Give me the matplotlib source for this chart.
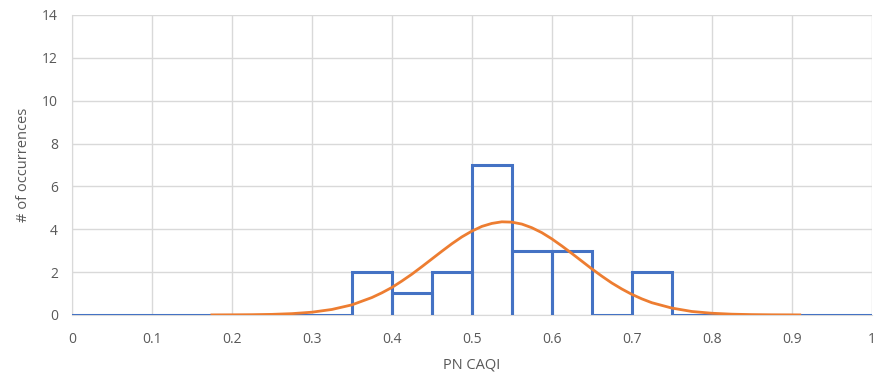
import matplotlib.pyplot as plt

# histogram of PN CAQI, bins of 0.05
bin_edges = [round(0.05 * i, 2) for i in range(21)]
counts = [0, 0, 0, 0, 0, 0, 0, 2, 1, 2, 7, 3, 3, 0, 2, 0, 0, 0, 0, 0]

# fitted normal curve
curve_x = [0.175, 0.2, 0.225, 0.25, 0.275, 0.3, 0.325, 0.35, 0.375, 0.3875, 0.4,
           0.4125, 0.425, 0.4375, 0.45, 0.4625, 0.475, 0.4875, 0.5, 0.5125, 0.525,
           0.5375, 0.55, 0.5625, 0.575, 0.5875, 0.6, 0.6125, 0.625, 0.6375, 0.65,
           0.6625, 0.675, 0.6875, 0.7, 0.7125, 0.725, 0.75, 0.775, 0.8, 0.825,
           0.85, 0.875, 0.9, 0.91]
curve_y = [0.0, 0.004, 0.01, 0.025, 0.059, 0.126, 0.254, 0.468, 0.81, 1.03, 1.28,
           1.58, 1.90, 2.25, 2.61, 2.97, 3.32, 3.64, 3.91, 4.13, 4.27,
           4.345, 4.33, 4.24, 4.07, 3.84, 3.55, 3.22, 2.87, 2.51, 2.15,
           1.81, 1.49, 1.21, 0.96, 0.75, 0.57, 0.32, 0.16, 0.078, 0.034,
           0.014, 0.005, 0.002, 0.0]

xticks = [0, 0.1, 0.2, 0.3, 0.4, 0.5, 0.6, 0.7, 0.8, 0.9, 1]
xtick_labels = ['0', '0.1', '0.2', '0.3', '0.4', '0.5', '0.6', '0.7', '0.8', '0.9', '1']
yticks = [0, 2, 4, 6, 8, 10, 12, 14]

plt.rcParams['font.family'] = ['Open Sans', 'DejaVu Sans']

fig = plt.figure(figsize=(8.77, 3.74), dpi=100)
ax = fig.add_axes([0.082, 0.158, 0.912, 0.802])

# each bin drawn as its own outline down to zero
hx, hy = [], []
for i, c in enumerate(counts):
    l, r = bin_edges[i], bin_edges[i + 1]
    hx += [l, l, r, r]
    hy += [0, c, c, 0]
ax.plot(hx, hy, color='#4472C4', lw=2.2, solid_joinstyle='miter', zorder=3)
ax.plot(curve_x, curve_y, color='#ED7D31', lw=2.0, zorder=4)

ax.set_xlim(0, 1)
ax.set_ylim(0, 14)
ax.set_xticks(xticks)
ax.set_xticklabels(xtick_labels)
ax.set_yticks(yticks)
ax.grid(True, color='#d9d9d9', lw=1)
ax.set_axisbelow(True)
ax.tick_params(length=0, labelsize=10, labelcolor='#595959')
ax.tick_params(axis='x', pad=12)
ax.tick_params(axis='y', pad=10)
for s in ['top', 'right']:
    ax.spines[s].set_visible(False)
ax.spines['left'].set_color('#d9d9d9')
ax.spines['bottom'].set_color('#d9d9d9')

ax.set_xlabel('PN CAQI', fontsize=10.5, color='#595959', labelpad=8)
ax.set_ylabel('# of occurrences', fontsize=10.5, color='#595959', labelpad=8)

fig.savefig('out.png', dpi=100)
